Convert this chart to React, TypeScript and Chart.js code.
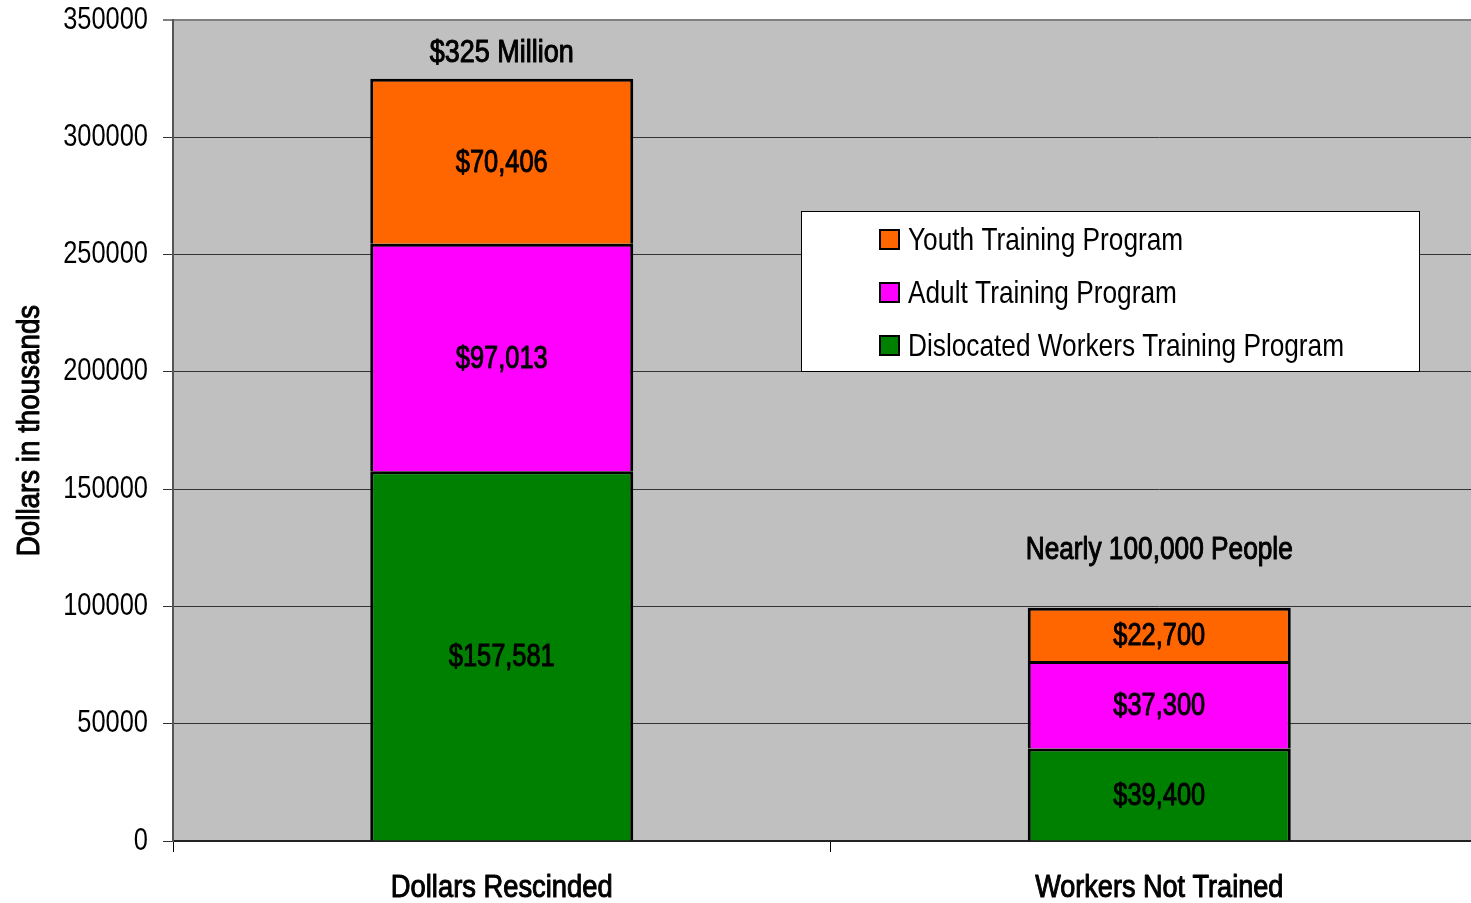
import React, { useEffect, useRef } from "react";
import { Chart, registerables } from "chart.js";

Chart.register(...registerables);

const categories = ["Dollars Rescinded", "Workers Not Trained"];
const seriesNames = [
  "Dislocated Workers Training Program",
  "Adult Training Program",
  "Youth Training Program",
];
const dislocatedValues = [157581, 39400];
const adultValues = [97013, 37300];
const youthValues = [70406, 22700];
const totalLabels = ["$325 Million", "Nearly 100,000 People"];
const yTickValues = [0, 50000, 100000, 150000, 200000, 250000, 300000, 350000];

const seriesColors = ["#008000", "#FF00FF", "#FF6600"];
const FONT = '"Liberation Sans", Arial, sans-serif';
const NARROW = 0.82;
const MEDIUM_STROKE = 1.0;
const totalLabelOffsets = [25, 57];

const plotBackground = {
  id: "plotBackground",
  beforeDraw(chart: any) {
    const { ctx, chartArea: a } = chart;
    ctx.save();
    ctx.fillStyle = "#C0C0C0";
    ctx.fillRect(a.left, a.top, a.right - a.left, a.bottom - a.top);
    ctx.restore();
  },
};

const barLabels = {
  id: "barLabels",
  afterDatasetsDraw(chart: any) {
    const { ctx } = chart;
    ctx.save();
    ctx.fillStyle = "#000";
    ctx.textAlign = "center";
    ctx.textBaseline = "middle";
    ctx.font = `600 31px ${FONT}`;
    chart.data.datasets.forEach((ds: any, i: number) => {
      const meta = chart.getDatasetMeta(i);
      meta.data.forEach((el: any, j: number) => {
        const v = ds.data[j];
        const yc = (el.y + el.base) / 2;
        ctx.fillText("$" + v.toLocaleString("en-US"), el.x, yc + 2);
      });
    });
    const lastMeta = chart.getDatasetMeta(chart.data.datasets.length - 1);
    lastMeta.data.forEach((el: any, j: number) => {
      ctx.fillText(totalLabels[j], el.x, el.y - totalLabelOffsets[j]);
    });
    ctx.restore();
  },
};

const boxLegend = {
  id: "boxLegend",
  afterDraw(chart: any) {
    const { ctx } = chart;
    const left = 801, top = 211, w = 618, h = 160;
    ctx.save();
    ctx.fillStyle = "#fff";
    ctx.fillRect(left, top, w, h);
    ctx.strokeStyle = "#000";
    ctx.lineWidth = 1;
    ctx.strokeRect(left + 0.5, top + 0.5, w, h);
    const n = chart.data.datasets.length;
    ctx.font = `32px ${FONT}`;
    ctx.textAlign = "left";
    ctx.textBaseline = "middle";
    for (let k = 0; k < n; k++) {
      const ds = chart.data.datasets[n - 1 - k];
      const cy = top + 29 + k * 53;
      ctx.fillStyle = ds.backgroundColor;
      ctx.fillRect(879, cy - 11, 21, 21);
      ctx.strokeStyle = "#000";
      ctx.lineWidth = 2;
      ctx.strokeRect(880, cy - 10, 19, 19);
      ctx.fillStyle = "#000";
      ctx.fillText(ds.label, 908, cy + 1);
    }
    ctx.restore();
  },
};

export default function App() {
  const ref = useRef<HTMLCanvasElement | null>(null);
  useEffect(() => {
    document.body.style.margin = "0";
    const canvas = ref.current!;
    const ctx2d: any = canvas.getContext("2d");
    if (!ctx2d.__narrowed) {
      const origFill = ctx2d.fillText.bind(ctx2d);
      const origStroke = ctx2d.strokeText.bind(ctx2d);
      ctx2d.fillText = function (text: string, x: number, y: number) {
        ctx2d.save();
        const f: string = ctx2d.font;
        const medium = /^600\s/.test(f) || /\s600\s/.test(f);
        let sx = NARROW;
        if (medium) {
          ctx2d.font = f.replace("600", "bold");
          const wB = ctx2d.measureText(text).width;
          ctx2d.font = f.replace("600", "normal");
          const wR = ctx2d.measureText(text).width;
          if (wR > 0) sx = (NARROW * wB) / wR;
        }
        ctx2d.scale(sx, 1);
        if (medium) {
          ctx2d.strokeStyle = ctx2d.fillStyle;
          ctx2d.lineWidth = MEDIUM_STROKE;
          ctx2d.lineJoin = "round";
          origStroke(text, x / sx, y);
        }
        origFill(text, x / sx, y);
        ctx2d.restore();
      };
      ctx2d.__narrowed = true;
    }
    const data = [dislocatedValues, adultValues, youthValues];
    const chart = new Chart(canvas, {
      type: "bar",
      data: {
        labels: categories,
        datasets: data.map((d, i) => ({
          label: seriesNames[i],
          data: d,
          backgroundColor: seriesColors[i],
          borderColor: "#000",
          borderWidth: 3,
          categoryPercentage: 1,
          barPercentage: 0.4,
        })),
      },
      options: {
        responsive: false,
        animation: false,
        layout: { padding: { top: 20, right: 0, left: 0, bottom: 0 } },
        plugins: { legend: { display: false }, tooltip: { enabled: false } },
        scales: {
          x: {
            stacked: true,
            offset: true,
            grid: {
              display: true,
              drawOnChartArea: false,
              drawTicks: true,
              tickLength: 11,
              offset: true,
              color: "#000",
              lineWidth: 1,
            },
            border: { display: true, color: "#222", width: 2 },
            ticks: {
              color: "#000",
              font: { family: FONT, size: 31, weight: "600" },
              padding: 18,
              maxRotation: 0,
            },
            afterFit(scale: any) {
              scale.height = 62;
              scale.paddingLeft = 0;
              scale.paddingRight = 0;
            },
          },
          y: {
            stacked: true,
            min: 0,
            max: 350000,
            afterBuildTicks(scale: any) {
              scale.ticks = yTickValues.map((v) => ({ value: v }));
            },
            grid: {
              color: (c: any) => (c.tick && c.tick.value === 350000 ? "#808080" : "#333"),
              lineWidth: (c: any) => (c.tick && c.tick.value === 350000 ? 2 : 1),
              tickLength: 10,
            },
            border: { display: true, color: "#555", width: 2 },
            ticks: {
              callback: (v: any) => String(v),
              padding: 15,
              color: "#000",
              font: { family: FONT, size: 31 },
            },
            title: {
              display: true,
              text: "Dollars in thousands",
              color: "#000",
              font: { family: FONT, size: 31, weight: "600" },
              padding: { top: 12, bottom: 0 },
            },
            afterFit(scale: any) {
              scale.width = 173;
              scale.paddingTop = 0;
              scale.paddingBottom = 0;
            },
          },
        },
      },
      plugins: [plotBackground, barLabels, boxLegend],
    });
    return () => chart.destroy();
  }, []);
  return (
    <div style={{ width: 1471, height: 903, overflow: "hidden" }}>
      <canvas
        ref={ref}
        width={1488}
        height={903}
        style={{ display: "block", width: 1488, height: 903 }}
      />
    </div>
  );
}
